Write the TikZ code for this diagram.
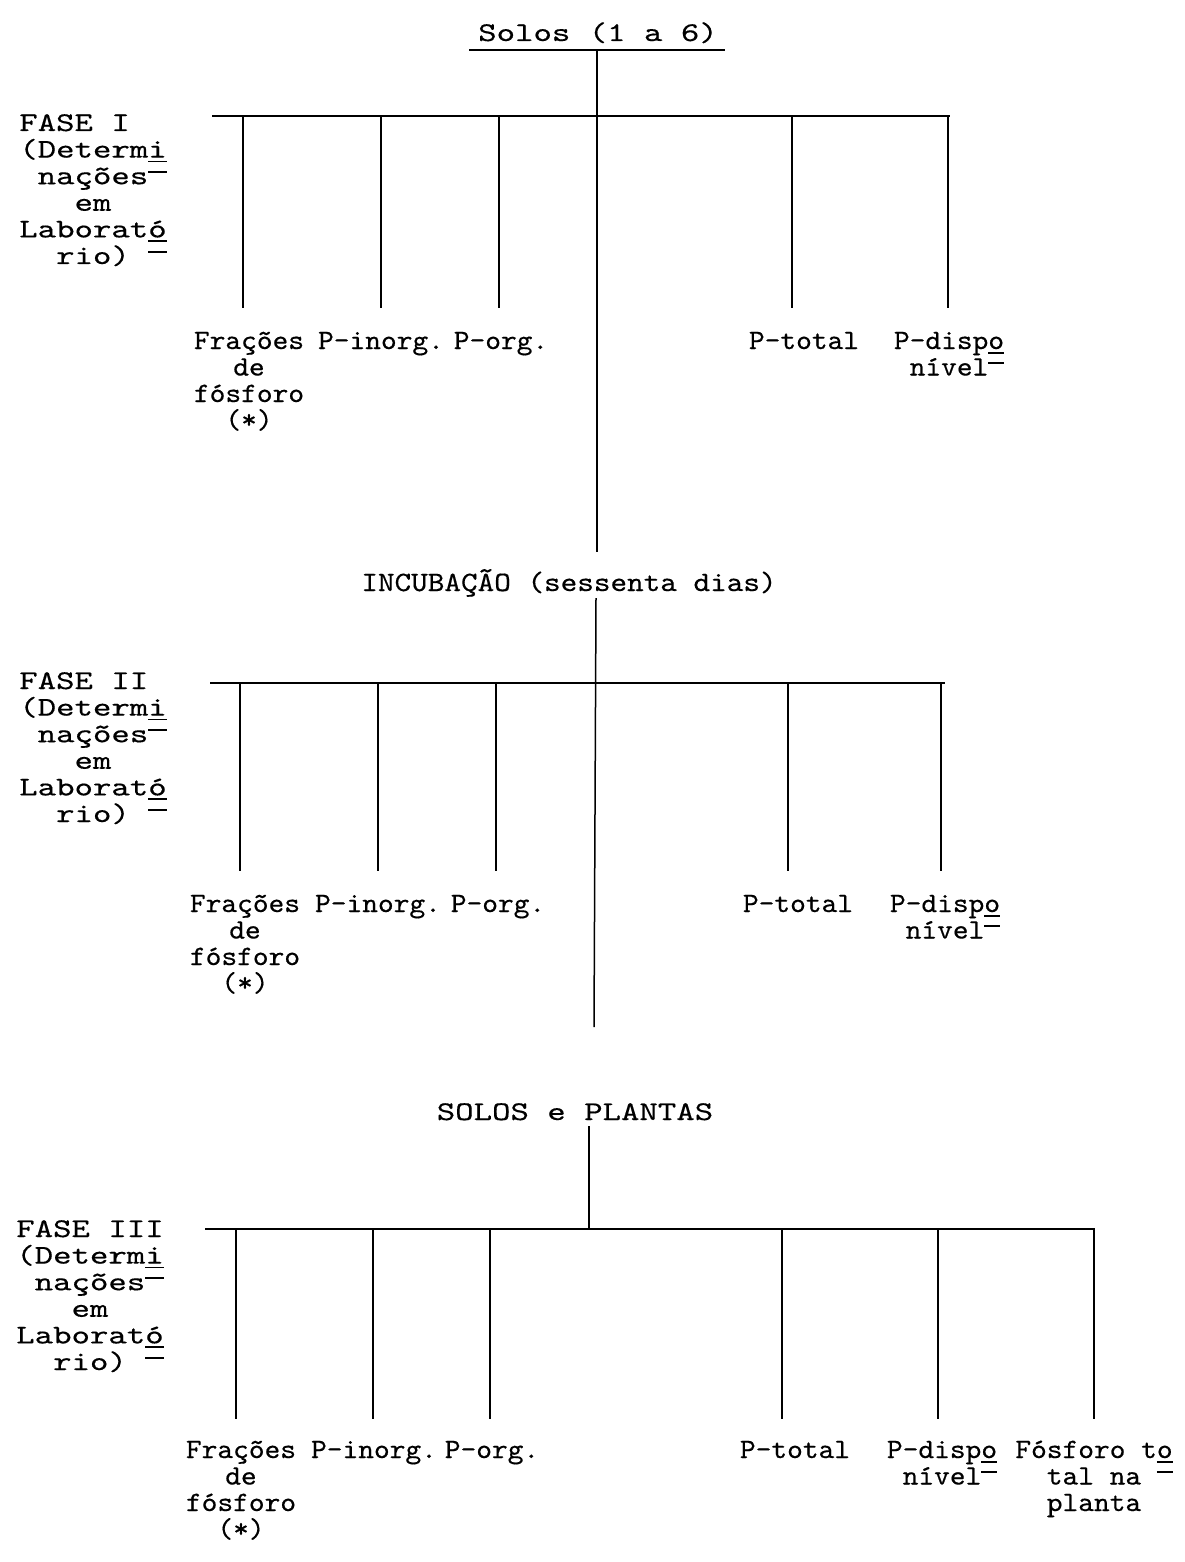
\documentclass[tikz,border=0pt]{standalone}
\usepackage{fontspec}
\newfontfamily\pica[Extension=.otf,FakeStretch=1.3,FakeBold=0.4]{lmmono10-regular}
\newfontfamily\elite[Extension=.otf,FakeStretch=1.07,FakeBold=0.4]{lmmono10-regular}
\newfontfamily\elitew[Extension=.otf,FakeStretch=1.13,FakeBold=0.4]{lmmono10-regular}
\newsavebox\cwbox
\newcommand\ulc[1]{\sbox\cwbox{#1}\rlap{\rule[-0.17em]{\wd\cwbox}{0.06em}}#1}
\newcommand\obc{\sbox\cwbox{x}\rlap{\rule[0.42em]{\wd\cwbox}{0.06em}}}
\newcommand\obskip{\sbox\cwbox{x}\rlap{\hspace{\wd\cwbox}\rule[0.42em]{\wd\cwbox}{0.06em}}}
\newcommand\stk[1]{\vtop{\halign{\hfil##\hfil\cr#1\crcr}}}
\tikzset{
  picatxt/.style={inner sep=0pt, anchor=base, font=\pica\fontsize{27}{26.6}\selectfont},
  elitetxt/.style={inner sep=0pt, anchor=base, font=\elite\fontsize{28}{26.5}\selectfont},
  widetxt/.style={inner sep=0pt, anchor=base, font=\elitew\fontsize{28}{26.5}\selectfont},
  hbar/.style={line width=1.8pt},
  vbar/.style={line width=1.5pt},
}
\begin{document}
\begin{tikzpicture}[x=1pt,y=-1pt]
\fill[white] (0,0) rectangle (1184,1562);
\useasboundingbox (0,0) rectangle (1184,1562);

% ---------- title ----------
\node[picatxt] (title) at (598,41) {Solos (1 a 6)};
\coordinate (ulL) at (469,50);
\coordinate (ulR) at (725,50);
\draw[hbar] (ulL) -- (ulR);

% ---------- FASE I ----------
\node[picatxt] (fase1) at (93,131) {\stk{\rlap{FASE I}\hphantom{FASE III}\cr (Determ\ulc{i}\cr nações\obc\cr em\cr Laborat\ulc{ó}\cr rio)\obskip}};
\coordinate (t1a) at (597,50);
\coordinate (t1b) at (597,552);
\coordinate (h1L) at (212,116);
\coordinate (h1R) at (950,116);
\draw[vbar] (t1a) -- (t1b);
\draw[hbar] (h1L) -- (h1R);
\foreach \n/\x in {a/243,b/381,c/499,d/792,e/948}{
  \coordinate (b1\n t) at (\x,116);
  \coordinate (b1\n b) at (\x,308);
  \draw[vbar] (b1\n t) -- (b1\n b);
}
\node[elitetxt] (fr1) at (249,349) {\stk{Frações\cr de\cr fósforo\cr (*)}};
\node[elitetxt] (pi1) at (381,349) {P-inorg.};
\node[elitetxt] (po1) at (501,349) {P-org.};
\node[elitetxt] (pt1) at (804,349) {P-total};
\node[elitetxt] (pd1) at (949,349) {\stk{P-disp\ulc{o}\cr nível\obc}};

% ---------- incubation ----------
\node[widetxt] (inc) at (569,591) {INCUBAÇÃO (sessenta dias)};

% ---------- FASE II ----------
\node[picatxt] (fase2) at (93,689) {\stk{\rlap{FASE II}\hphantom{FASE III}\cr (Determ\ulc{i}\cr nações\obc\cr em\cr Laborat\ulc{ó}\cr rio)\obskip}};
\coordinate (t2a) at (596,598);
\coordinate (t2b) at (594,1027);
\coordinate (h2L) at (210,683);
\coordinate (h2R) at (945,683);
\draw[vbar] (t2a) -- (t2b);
\draw[hbar] (h2L) -- (h2R);
\foreach \n/\x in {a/240,b/378,c/496,d/788,e/941}{
  \coordinate (b2\n t) at (\x,683);
  \coordinate (b2\n b) at (\x,871);
  \draw[vbar] (b2\n t) -- (b2\n b);
}
\node[elitetxt] (fr2) at (245,912) {\stk{Frações\cr de\cr fósforo\cr (*)}};
\node[elitetxt] (pi2) at (378,912) {P-inorg.};
\node[elitetxt] (po2) at (498,912) {P-org.};
\node[elitetxt] (pt2) at (798,912) {P-total};
\node[elitetxt] (pd2) at (945,912) {\stk{P-disp\ulc{o}\cr nível\obc}};

% ---------- soils and plants ----------
\node[picatxt] (sp) at (575,1120) {SOLOS e PLANTAS};

% ---------- FASE III ----------
\node[picatxt] (fase3) at (90,1237) {\stk{FASE III\cr (Determ\ulc{i}\cr nações\obc\cr em\cr Laborat\ulc{ó}\cr rio)\obskip}};
\coordinate (t3a) at (589,1126);
\coordinate (t3b) at (589,1229);
\coordinate (h3L) at (205,1229);
\coordinate (h3R) at (1095,1229);
\draw[vbar] (t3a) -- (t3b);
\draw[hbar] (h3L) -- (h3R);
\foreach \n/\x in {a/236,b/373,c/490,d/782,e/938,f/1094}{
  \coordinate (b3\n t) at (\x,1229);
  \coordinate (b3\n b) at (\x,1419);
  \draw[vbar] (b3\n t) -- (b3\n b);
}
\node[elitetxt] (fr3) at (241,1458) {\stk{Frações\cr de\cr fósforo\cr (*)}};
\node[elitetxt] (pi3) at (374,1458) {P-inorg.};
\node[elitetxt] (po3) at (492,1458) {P-org.};
\node[elitetxt] (pt3) at (795,1458) {P-total};
\node[elitetxt] (pd3) at (942,1458) {\stk{P-disp\ulc{o}\cr nível\obc}};
\node[elitetxt] (fp3) at (1094,1458) {\stk{Fósforo t\ulc{o}\cr tal na\obskip\cr planta}};
\end{tikzpicture}
\end{document}
